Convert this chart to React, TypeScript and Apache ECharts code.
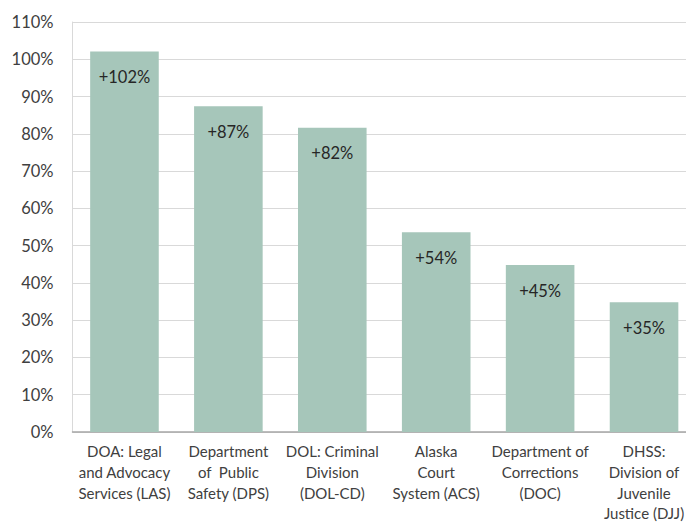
import React, { useEffect, useRef } from "react";
import * as echarts from "echarts";

const categories = [
  "DOA: Legal\nand Advocacy\nServices (LAS)",
  "Department\nof  Public\nSafety (DPS)",
  "DOL: Criminal\nDivision\n(DOL-CD)",
  "Alaska\nCourt\nSystem (ACS)",
  "Department of\nCorrections\n(DOC)",
  "DHSS:\nDivision of\nJuvenile\nJustice (DJJ)",
];
const values = [102.1, 87.4, 81.6, 53.6, 44.8, 34.8];
const barLabels = ["+102%", "+87%", "+82%", "+54%", "+45%", "+35%"];

const FONT = "Lato, 'Noto Sans', sans-serif";
const TEXT = "#404040";

export default function App() {
  const ref = useRef<HTMLDivElement>(null);
  useEffect(() => {
    if (!ref.current) return;
    const chart = echarts.init(ref.current, undefined, { renderer: "svg" });
    chart.setOption({
      animation: false,
      grid: {
        left: 72.5,
        right: 0,
        top: 22,
        bottom: 91,
        containLabel: false,
        outerBoundsMode: "none",
      },
      xAxis: {
        type: "category",
        data: categories,
        axisTick: { show: false },
        axisLine: { lineStyle: { color: "#a6a6a6", width: 1.5 } },
        axisLabel: {
          color: TEXT,
          fontFamily: FONT,
          fontSize: 15,
          lineHeight: 20.7,
          margin: 9,
          interval: 0,
        },
      },
      yAxis: {
        type: "value",
        min: 0,
        max: 110,
        interval: 10,
        axisLine: { show: true, lineStyle: { color: "#d9d9d9", width: 1 } },
        axisTick: { show: false },
        splitLine: { lineStyle: { color: "#d9d9d9", width: 1.2 } },
        axisLabel: {
          color: TEXT,
          fontFamily: FONT,
          fontSize: 16.5,
          margin: 19,
          formatter: "{value}%",
        },
      },
      series: [
        {
          type: "bar",
          data: values,
          barCategoryGap: "34%",
          itemStyle: { color: "#a6c6ba" },
          label: {
            show: true,
            position: "insideTop",
            distance: 17,
            color: "#262626",
            fontFamily: FONT,
            fontSize: 16.5,
            formatter: (p: any) => barLabels[p.dataIndex],
          },
        },
      ],
    });
    return () => chart.dispose();
  }, []);
  return (
    <div style={{ position: "fixed", left: 0, top: 0, width: 686, height: 523, overflow: "hidden", background: "#fff" }}>
      <div ref={ref} style={{ width: 696, height: 523 }} />
    </div>
  );
}
